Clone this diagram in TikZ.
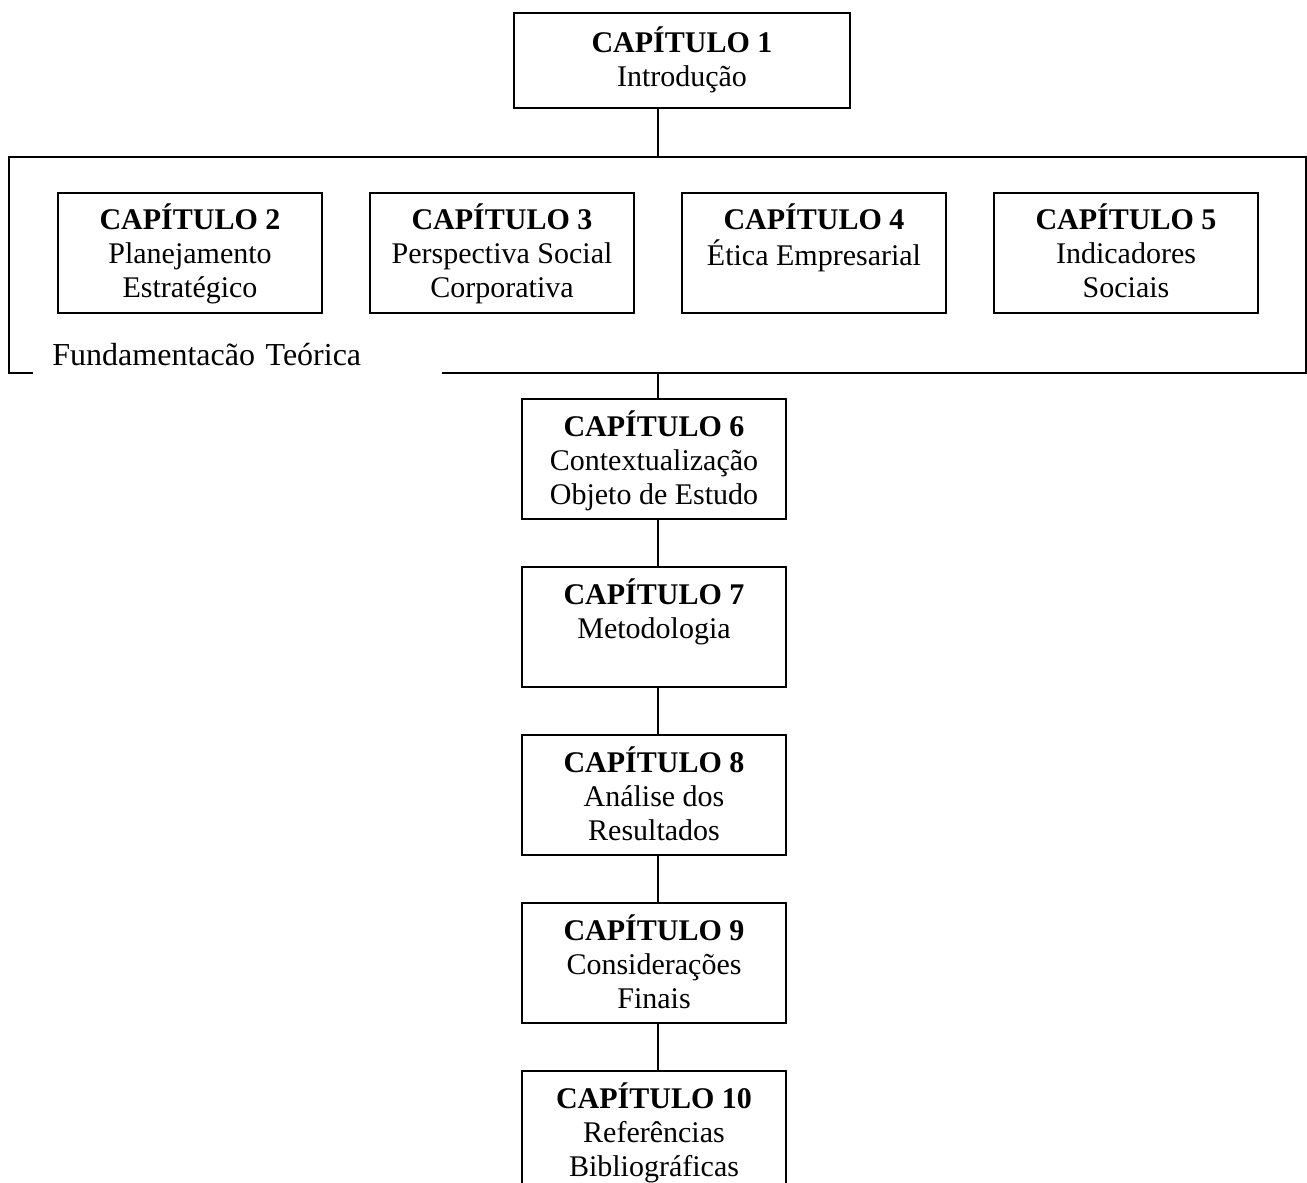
\documentclass[tikz,border=0pt]{standalone}
\usepackage{fontspec}
\setmainfont{Liberation Serif}
\usepackage{tikz}
\usetikzlibrary{positioning}
\newcommand{\chaptext}[2]{\begin{tabular}[t]{@{}c@{}}\textbf{CAPÍTULO #1}\\#2\end{tabular}}
\tikzset{
  chap/.style  ={draw,line width=1pt,minimum width=132pt,minimum height=60pt,inner sep=0pt,
                 text height=13.5pt,text depth=36.5pt,
                 font=\fontsize{15}{17}\selectfont},
  intro/.style ={draw,line width=1pt,minimum width=168pt,minimum height=47.5pt,inner sep=0pt,
                 align=center,font=\fontsize{15}{17}\selectfont},
  group/.style ={draw,line width=1pt,minimum width=648.5pt,minimum height=108pt,inner sep=0pt},
  grouplabel/.style={fill=white,anchor=base west,inner xsep=9.5pt,text width=185.5pt,
                 align=left,text depth=3pt,font=\fontsize{16}{17}\selectfont},
  link/.style  ={line width=1pt},
}
\begin{document}
\begin{tikzpicture}[x=0.5pt,y=-0.5pt]
  \useasboundingbox (0,0) rectangle (1307,1183);
  \node[intro] (c1) at (682,60) {\textbf{CAPÍTULO 1}\\Introdução};
  % fundamentacao block
  \node[group] (fund) at (657.5,265) {};
  \node[grouplabel] (fundlbl) at (33,365) {Fundamentacão Teórica};
  \foreach \x/\n/\txt in {190/2/{Planejamento\\Estratégico},
                          502/3/{Perspectiva Social\\Corporativa},
                          814/4/{Ética Empresarial},
                          1126/5/{Indicadores\\Sociais}}{
     \node[chap] (c\n) at (\x,252.5) {\chaptext{\n}{\txt}};
  }
  % chapters below
  \foreach \y/\n/\txt in {398/6/{Contextualização\\Objeto de Estudo},
                          566/7/{Metodologia},
                          734/8/{Análise dos\\Resultados},
                          902/9/{Considerações\\Finais},
                          1070/10/{Referências\\Bibliográficas}}{
     \node[chap,anchor=north] (c\n) at (654,\y) {\chaptext{\n}{\txt}};
  }
  \draw[link] (c1.south -| fund.north) -- (fund.north);
  \draw[link] (fund.south) -- (fund.south |- c6.north);
  \foreach \a/\b in {6/7,7/8,8/9,9/10}{
     \draw[link] (c\a.south -| fund.south) -- (c\b.north -| fund.south);
  }
\end{tikzpicture}
\end{document}
